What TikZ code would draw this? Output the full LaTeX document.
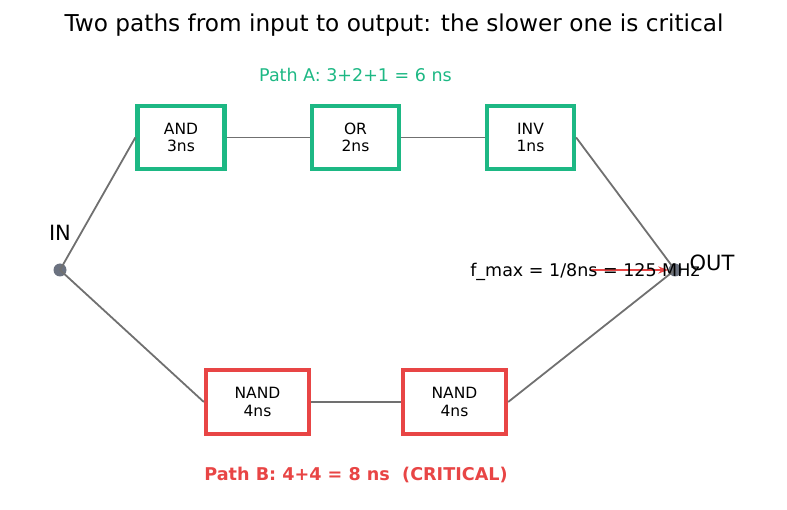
\documentclass[tikz,border=0pt]{standalone}
\usepackage{fontspec}
\setmainfont{DejaVu Sans}
\usetikzlibrary{positioning,arrows.meta}
\definecolor{pathA}{HTML}{1DB884}
\definecolor{pathB}{HTML}{E84545}
\definecolor{wire}{HTML}{707070}
\definecolor{pin}{HTML}{6B7280}
\tikzset{
  gateA/.style={draw=pathA,line width=4.3pt,minimum width=87pt,minimum height=63pt,align=center,font=\fontsize{15.5}{17.5}\selectfont},
  gateB/.style={draw=pathB,line width=4.3pt,minimum width=103pt,minimum height=64pt,align=center,font=\fontsize{15.5}{17.5}\selectfont},
  pinpt/.style={circle,fill=pin,inner sep=0pt,minimum size=13pt},
  wirel/.style={draw=wire,line width=1.8pt}
}
\begin{document}
\begin{tikzpicture}[x=1pt,y=-1pt]
\useasboundingbox (0,0) rectangle (787,510);
\node[font=\fontsize{23.2}{26}\selectfont] (title) at (394,25) {Two paths from input to output: the slower one is critical};

% path A
\node[gateA] (and) at (181,137.5) {AND\\3ns};
\node[gateA] (or) at (355.5,137.5) {OR\\2ns};
\node[gateA] (inv) at (530.5,137.5) {INV\\1ns};
\node[text=pathA,font=\fontsize{17.5}{20}\selectfont] (labA) at (355.5,75) {Path A: 3+2+1 = 6 ns};

% path B
\node[gateB] (nand1) at (257.5,402) {NAND\\4ns};
\node[gateB] (nand2) at (454.5,402) {NAND\\4ns};
\node[text=pathB,font=\bfseries\fontsize{17.6}{20}\selectfont] (labB) at (356,475) {Path B: 4+4 = 8 ns\ \ (CRITICAL)};

% pins
\node[pinpt] (in) at (60,270) {};
\node[pinpt] (out) at (675,270) {};
\node[font=\fontsize{21}{24}\selectfont] (inlab) at (60,233) {IN};
\node[font=\fontsize{21}{24}\selectfont] (outlab) at (712,263) {OUT};

% wires
\draw[wirel] (in.center) -- (and.west);
\draw[wirel] (and) -- (or);
\draw[wirel] (or) -- (inv);
\draw[wirel] (inv.east) -- (out.center);
\draw[wirel] (in.center) -- (nand1.west);
\draw[wirel] (nand1) -- (nand2);
\draw[wirel] (nand2.east) -- (out.center);

% fmax
\coordinate (fstart) at (590,270);
\draw[pathB,line width=1.6pt,-{Stealth[length=10pt,width=7pt]}] (fstart) -- (out.west);
\node[font=\fontsize{17.5}{20}\selectfont] (fmax) at (585,272) {f\_max = 1/8ns = 125 MHz};
\end{tikzpicture}
\end{document}
